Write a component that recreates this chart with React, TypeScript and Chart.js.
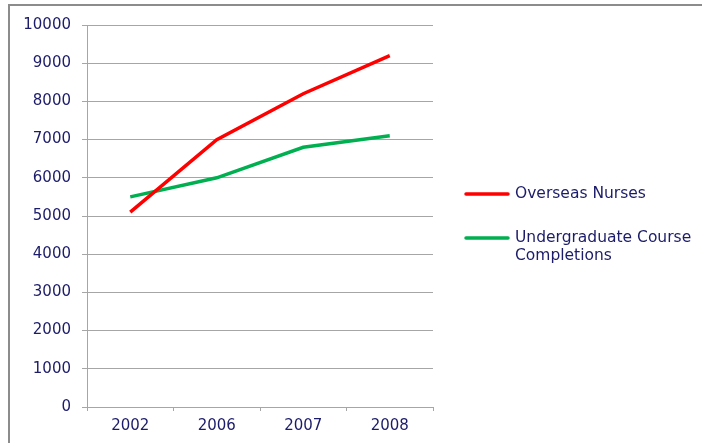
import React, { useEffect, useRef } from "react";
import { Chart, registerables } from "chart.js";

Chart.register(...registerables);

const categories = ["2002", "2006", "2007", "2008"];
const overseasNurses = [5100, 7000, 8200, 9200];
const undergradCompletions = [5500, 6000, 6800, 7100];
const seriesLabels = ["Overseas Nurses", ["Undergraduate Course", "Completions"]];
const yTicks = { min: 0, max: 10000, step: 1000 };

const TEXT = "#1c1c6a";
const GRID = "#a6a6a6";
const FONT = "DejaVu Sans";

const sideLegend = {
  id: "sideLegend",
  afterDraw(chart: any) {
    const { ctx, chartArea } = chart;
    const x0 = chartArea.right + 33;
    const mid = (chartArea.top + chartArea.bottom) / 2;
    const rows = [mid - 22, mid + 22];
    ctx.save();
    ctx.font = `15.5px "${FONT}"`;
    ctx.textBaseline = "middle";
    ctx.textAlign = "left";
    chart.data.datasets.forEach((ds: any, i: number) => {
      const y = rows[i];
      ctx.strokeStyle = ds.borderColor;
      ctx.lineWidth = 3.5;
      ctx.lineCap = "round";
      ctx.beginPath();
      ctx.moveTo(x0, y);
      ctx.lineTo(x0 + 42, y);
      ctx.stroke();
      ctx.fillStyle = TEXT;
      const lines = Array.isArray(ds.label) ? ds.label : [ds.label];
      lines.forEach((t: string, j: number) => {
        ctx.fillText(t, x0 + 49, y + j * 18);
      });
    });
    ctx.restore();
  },
};

export default function App() {
  const ref = useRef<HTMLCanvasElement | null>(null);
  useEffect(() => {
    if (!ref.current) return;
    const chart = new Chart(ref.current, {
      type: "line",
      data: {
        labels: categories,
        datasets: [
          {
            label: seriesLabels[0] as any,
            data: overseasNurses,
            borderColor: "#ff0000",
            backgroundColor: "#ff0000",
            borderWidth: 3.5,
            pointRadius: 0,
            tension: 0,
          },
          {
            label: seriesLabels[1] as any,
            data: undergradCompletions,
            borderColor: "#00b050",
            backgroundColor: "#00b050",
            borderWidth: 3.5,
            pointRadius: 0,
            tension: 0,
          },
        ],
      },
      options: {
        animation: false,
        responsive: false,
        devicePixelRatio: 1,
        layout: { padding: { left: 0, top: 25, right: 269, bottom: 0 } },
        plugins: { legend: { display: false }, tooltip: { enabled: false } },
        scales: {
          x: {
            offset: true,
            grid: {
              offset: true,
              drawOnChartArea: false,
              color: GRID,
              tickLength: 4,
            },
            border: { color: GRID },
            ticks: { color: TEXT, font: { family: FONT, size: 15 }, padding: 6 },
            afterFit: (s: any) => {
              s.height = 36;
            },
          },
          y: {
            min: yTicks.min,
            max: yTicks.max,
            ticks: {
              stepSize: yTicks.step,
              color: TEXT,
              font: { family: FONT, size: 15 },
              padding: 11,
              callback: (v: any) => String(v),
            },
            grid: { color: GRID, tickLength: 5 },
            border: { color: GRID },
            afterFit: (s: any) => {
              s.width = 87;
            },
          },
        },
      },
      plugins: [sideLegend],
    });
    return () => chart.destroy();
  }, []);

  return (
    <div
      style={{
        position: "absolute",
        left: 0,
        top: 0,
        width: 702,
        height: 443,
        overflow: "hidden",
        background: "#fff",
      }}
    >
      <div
        style={{
          position: "absolute",
          left: 8,
          top: 4,
          width: 900,
          height: 900,
          borderTop: "2px solid #8c8c8c",
          borderLeft: "2px solid #8c8c8c",
        }}
      />
      <canvas
        ref={ref}
        width={702}
        height={443}
        style={{ position: "absolute", left: 0, top: 0, width: 702, height: 443 }}
      />
    </div>
  );
}
